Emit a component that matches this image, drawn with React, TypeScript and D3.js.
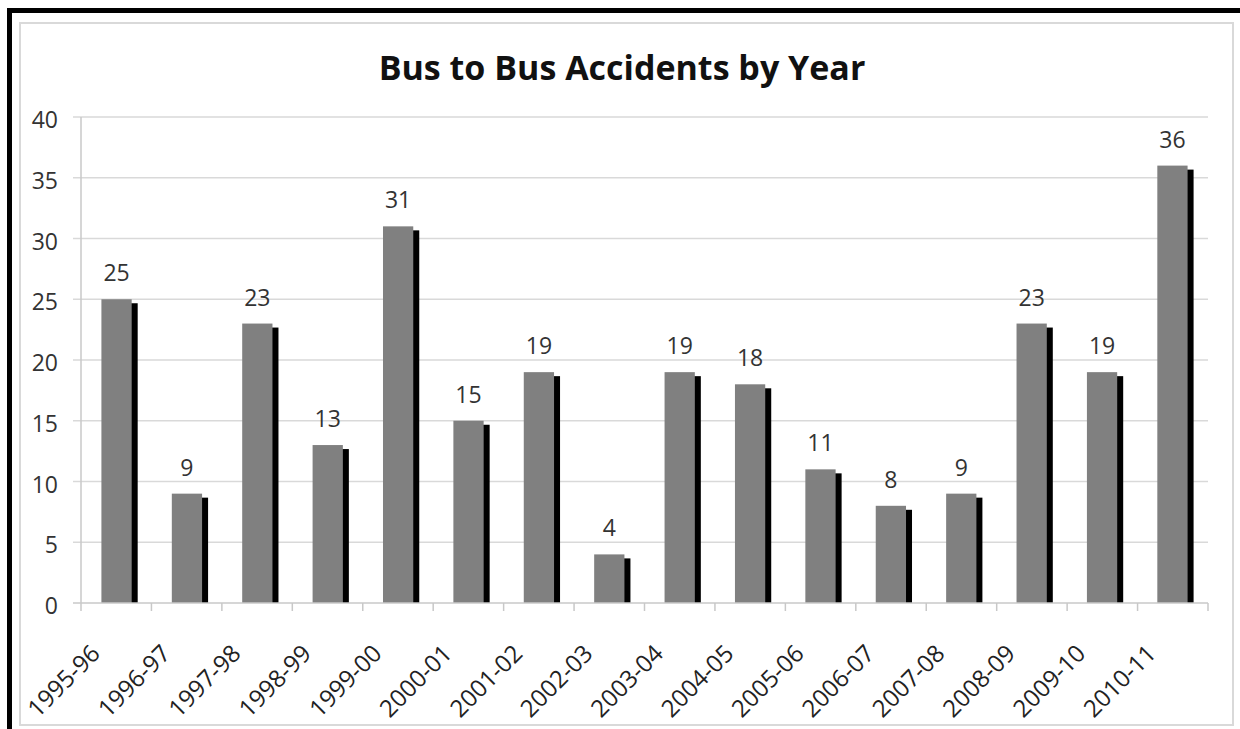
import React from "react";
import * as d3 from "d3";

const categories = ["1995-96","1996-97","1997-98","1998-99","1999-00","2000-01","2001-02","2002-03","2003-04","2004-05","2005-06","2006-07","2007-08","2008-09","2009-10","2010-11"];
const values = [25, 9, 23, 13, 31, 15, 19, 4, 19, 18, 11, 8, 9, 23, 19, 36];
const yTicks = [0, 5, 10, 15, 20, 25, 30, 35, 40];
const title = "Bus to Bus Accidents by Year";

const W = 1240, H = 729;
const left = 81, right = 1208, top = 117, bottom = 603;
const FONT = "'Open Sans', Lato, sans-serif";

export default function App() {
  const x = d3.scaleBand<string>().domain(categories).range([left, right]).paddingInner(0.57).paddingOuter(0.29);
  const y = d3.scaleLinear().domain([0, 40]).range([bottom, top]);
  const step = (right - left) / categories.length;
  const boundaries = d3.range(categories.length + 1).map(i => left + i * step);
  const bw = x.bandwidth();
  return (
    <svg width={W} height={H} style={{ position: "absolute", left: 0, top: 0, display: "block", background: "#fff" }}>
      <rect x={0} y={0} width={W} height={H} fill="#fff" />
      <rect x={9.5} y={10.5} width={W + 20} height={H + 20} fill="none" stroke="#000" strokeWidth={5} />
      <rect x={20} y={23} width={1213} height={702} fill="none" stroke="#d9d9d9" strokeWidth={2} />
      <text x={622} y={80} textAnchor="middle" fontFamily={FONT} fontWeight={700} fontSize={34} fill="#111">{title}</text>
      {yTicks.map(t => (
        <g key={t}>
          {t > 0 && <line x1={73} x2={right} y1={y(t)} y2={y(t)} stroke="#d9d9d9" strokeWidth={1.5} />}
          <text x={58} y={y(t) + 11} textAnchor="end" fontFamily={FONT} fontSize={23} fill="#333">{t}</text>
        </g>
      ))}
      <line x1={left} x2={left} y1={top} y2={bottom} stroke="#c8c8c8" strokeWidth={1.5} />
      {categories.map((c, i) => {
        const v = values[i];
        const bx = x(c)!;
        const by = y(v);
        return (
          <g key={c}>
            <rect x={bx + 6} y={by + 4} width={bw} height={Math.max(0, bottom - by - 4)} fill="#000" />
            <rect x={bx} y={by} width={bw} height={bottom - by} fill="#808080" />
            <text x={bx + bw / 2} y={by - 18} textAnchor="middle" fontFamily={FONT} fontSize={23} fill="#333">{v}</text>
          </g>
        );
      })}
      <line x1={73} x2={right} y1={bottom} y2={bottom} stroke="#c8c8c8" strokeWidth={1.5} />
      {boundaries.map((b, i) => (
        <line key={i} x1={b} x2={b} y1={bottom} y2={bottom + 8} stroke="#c8c8c8" strokeWidth={1.5} />
      ))}
      {categories.map(c => {
        const cx = x(c)! + bw / 2;
        const px = cx - 15, py = 655;
        return (
          <text key={c} x={px} y={py} textAnchor="end" transform={`rotate(-45 ${px} ${py})`} fontFamily={FONT} fontSize={24} fill="#222">{c}</text>
        );
      })}
    </svg>
  );
}
